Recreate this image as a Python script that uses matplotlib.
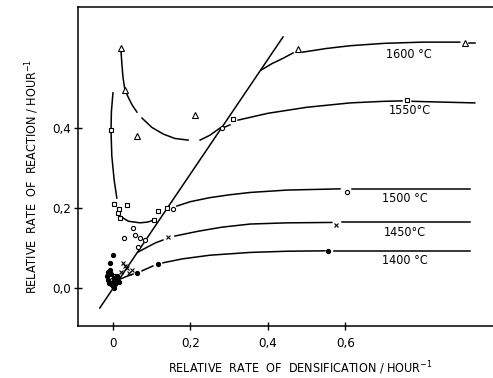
import matplotlib
matplotlib.use("Agg")
import matplotlib.pyplot as plt

plt.rcParams['font.family'] = ['DejaVu Sans']
plt.rcParams['font.stretch'] = 'condensed'

# straight line through the low-rate points
diag_x = [-0.034, 0.439]
diag_y = [-0.051, 0.627]

# curve pieces (gaps left where the drawing has them)
c1600 = [
    ([0.021, 0.023, 0.026, 0.031, 0.040, 0.050, 0.062],
     [0.589, 0.560, 0.525, 0.494, 0.475, 0.456, 0.439]),
    ([0.075, 0.100, 0.130, 0.160, 0.194], [0.424, 0.401, 0.384, 0.373, 0.369]),
    ([0.225, 0.250, 0.276], [0.369, 0.381, 0.399]),
    ([0.382, 0.410, 0.440, 0.465], [0.544, 0.560, 0.574, 0.587]),
    ([0.490, 0.550, 0.612, 0.700, 0.800, 0.895], [0.589, 0.598, 0.605, 0.611, 0.614, 0.614]),
    ([0.918, 0.934], [0.612, 0.612]),
]
c1550 = [
    ([0.000, -0.004, -0.005, -0.003, 0.003, 0.010], [0.487, 0.440, 0.394, 0.330, 0.270, 0.224]),
    ([0.023, 0.040, 0.070, 0.090, 0.106], [0.176, 0.166, 0.162, 0.164, 0.169]),
    ([0.287, 0.302], [0.401, 0.407]),
    ([0.323, 0.400, 0.500, 0.612, 0.700, 0.746], [0.419, 0.436, 0.451, 0.462, 0.466, 0.467]),
    ([0.772, 0.850, 0.934], [0.466, 0.464, 0.462]),
]
c1500 = [
    ([0.165, 0.200, 0.250, 0.300, 0.354, 0.450, 0.586], [0.204, 0.215, 0.225, 0.232, 0.238, 0.244, 0.247]),
    ([0.617, 0.750, 0.921], [0.247, 0.247, 0.247]),
]
c1450 = [
    ([0.065, 0.090, 0.110, 0.129], [0.089, 0.102, 0.112, 0.119]),
    ([0.160, 0.220, 0.280, 0.354, 0.450, 0.565], [0.129, 0.141, 0.151, 0.159, 0.162, 0.163]),
    ([0.590, 0.750, 0.921], [0.163, 0.163, 0.163]),
]
c1400 = [
    ([0.013, 0.030, 0.052], [0.019, 0.026, 0.034]),
    ([0.075, 0.103], [0.042, 0.054]),
    ([0.129, 0.180, 0.250, 0.354, 0.450, 0.547], [0.062, 0.072, 0.081, 0.088, 0.091, 0.092]),
    ([0.570, 0.750, 0.921], [0.092, 0.092, 0.092]),
]

# measured points
tri_x = [0.021, 0.031, 0.062, 0.212, 0.477, 0.908]
tri_y = [0.599, 0.494, 0.379, 0.432, 0.597, 0.612]
sq_x = [-0.005, 0.003, 0.036, 0.015, 0.013, 0.018, 0.106, 0.116, 0.139, 0.310, 0.759]
sq_y = [0.394, 0.209, 0.206, 0.196, 0.187, 0.174, 0.169, 0.192, 0.199, 0.422, 0.469]
circ_x = [0.281, 0.155, 0.052, 0.028, 0.057, 0.070, 0.083, 0.065, -0.002, 0.006, 0.604]
circ_y = [0.400, 0.197, 0.149, 0.124, 0.132, 0.124, 0.119, 0.102, 0.020, 0.030, 0.240]
cross_x = [0.142, 0.026, 0.036, 0.049, 0.041, 0.030, 0.020, 0.575]
cross_y = [0.127, 0.062, 0.049, 0.043, 0.037, 0.055, 0.040, 0.157]
dot_x = [-0.012, -0.015, -0.013, -0.010, -0.005, 0.000, 0.005, 0.008, -0.005, 0.002,
         0.010, -0.008, 0.015, 0.003, 0.000, 0.000, -0.008, 0.062, 0.116, 0.555]
dot_y = [0.040, 0.030, 0.020, 0.012, 0.008, 0.005, 0.010, 0.018, 0.035, 0.025,
         0.028, 0.045, 0.015, 0.000, 0.015, 0.082, 0.062, 0.037, 0.059, 0.092]

temps = ['1600 °C', '1550°C', '1500 °C', '1450°C', '1400 °C']
label_x = [0.764, 0.766, 0.754, 0.754, 0.754]
label_y = [0.584, 0.442, 0.224, 0.137, 0.067]

fig = plt.figure(figsize=(4.93, 3.78), dpi=100)
ax = fig.add_axes([0.1576, 0.1376, 0.8424, 0.844])

ax.plot(diag_x, diag_y, color='black', lw=1.1)
for curve in (c1600, c1550, c1500, c1450, c1400):
    for xs, ys in curve:
        ax.plot(xs, ys, color='black', lw=1.1)

mk = dict(linestyle='none', color='black', mfc='white', mew=0.8)
ax.plot(tri_x, tri_y, marker='^', ms=4, **mk)
ax.plot(sq_x, sq_y, marker='s', ms=3.5, **mk)
ax.plot(circ_x, circ_y, marker='o', ms=3, **mk)
ax.plot(cross_x, cross_y, marker='x', ms=3.5, linestyle='none', color='black', mew=0.8)
ax.plot(dot_x, dot_y, marker='o', ms=2.8, linestyle='none', color='black')

for t, lx, ly in zip(temps, label_x, label_y):
    ax.text(lx, ly, t, ha='center', va='center', fontsize=9)

ax.set_xlim(-0.091, 0.981)
ax.set_ylim(-0.096, 0.702)
ax.spines['right'].set_visible(False)
for s in ('left', 'top', 'bottom'):
    ax.spines[s].set_linewidth(1.1)

ax.set_xticks([0, 0.2, 0.4, 0.6])
ax.set_xticklabels(['0', '0,2', '0,4', '0,6'])
ax.set_yticks([0.0, 0.2, 0.4])
ax.set_yticklabels(['0,0', '0,2', '0,4'])
ax.tick_params(axis='x', direction='inout', length=6, width=1, pad=5, labelsize=9.5)
ax.tick_params(axis='y', direction='inout', length=6, width=1, pad=1.5, labelsize=9.5)

fig.text(0.6085, 0.026, 'RELATIVE  RATE  OF  DENSIFICATION / HOUR$^{-1}$',
         ha='center', va='center', fontsize=9)
fig.text(0.065, 0.532, 'RELATIVE  RATE  OF  REACTION / HOUR$^{-1}$',
         ha='center', va='center', rotation=90, fontsize=9)

fig.savefig('out.png', dpi=100)
